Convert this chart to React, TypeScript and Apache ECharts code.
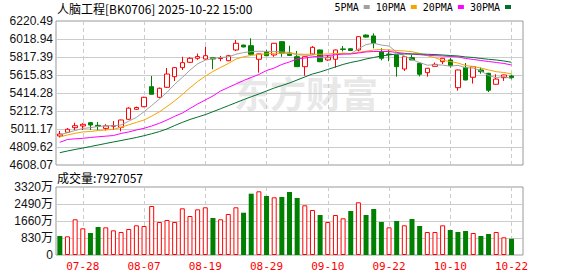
import React, { useEffect, useRef } from 'react';
import * as echarts from 'echarts';

const dates = [
  '07-23', '07-24', '07-25', '07-28', '07-29', '07-30', '07-31', '08-01', '08-04', '08-05',
  '08-06', '08-07', '08-08', '08-11', '08-12', '08-13', '08-14', '08-15', '08-18', '08-19',
  '08-20', '08-21', '08-22', '08-25', '08-26', '08-27', '08-28', '08-29', '09-01', '09-02',
  '09-03', '09-04', '09-05', '09-08', '09-09', '09-10', '09-11', '09-12', '09-15', '09-16',
  '09-17', '09-18', '09-19', '09-22', '09-23', '09-24', '09-25', '09-26', '09-29', '09-30',
  '10-09', '10-10', '10-13', '10-14', '10-15', '10-16', '10-17', '10-20', '10-21', '10-22',
];

const tickDates = ['07-28', '08-07', '08-19', '08-29', '09-10', '09-22', '10-10', '10-22'];

// [open, close, low, high]
const ohlc = [
  [4933, 4955, 4916, 4989], [4974, 5008, 4966, 5022], [5026, 5048, 5000, 5082], [5045, 5064, 5000, 5075],
  [5082, 5056, 5000, 5090], [5052, 5040, 5000, 5090], [5018, 5046, 4995, 5065], [5042, 5050, 5000, 5100],
  [5030, 5112, 4985, 5115], [5120, 5245, 5115, 5255], [5232, 5252, 5225, 5262], [5261, 5366, 5255, 5372],
  [5485, 5400, 5400, 5605], [5366, 5467, 5355, 5475], [5478, 5627, 5470, 5695], [5597, 5698, 5549, 5705],
  [5698, 5754, 5672, 5820], [5758, 5803, 5750, 5815], [5803, 5822, 5785, 5855], [5795, 5832, 5785, 5933],
  [5808, 5795, 5680, 5810], [5800, 5808, 5770, 5830], [5776, 5832, 5770, 5840], [5896, 5971, 5885, 6008],
  [5951, 5930, 5925, 5955], [5944, 5848, 5848, 6027], [5792, 5852, 5642, 5855], [5870, 5832, 5832, 5896],
  [5840, 5971, 5820, 5975], [5989, 5859, 5820, 5995], [5862, 5835, 5830, 5944], [5821, 5709, 5709, 5885],
  [5709, 5821, 5608, 5825], [5851, 5926, 5840, 5940], [5896, 5765, 5760, 5900], [5784, 5814, 5775, 5840],
  [5792, 5896, 5698, 5900], [5908, 5902, 5880, 5940], [5910, 5890, 5885, 5915], [5896, 6045, 5880, 6048],
  [6063, 6040, 6035, 6070], [6053, 5971, 5914, 6082], [5877, 5803, 5780, 5915], [5850, 5845, 5770, 5900],
  [5840, 5709, 5597, 5840], [5683, 5821, 5661, 5825], [5810, 5784, 5784, 5840], [5747, 5624, 5600, 5750],
  [5642, 5691, 5597, 5695], [5713, 5735, 5710, 5755], [5765, 5803, 5739, 5805], [5784, 5720, 5697, 5808],
  [5474, 5672, 5440, 5676], [5700, 5560, 5555, 5750], [5590, 5709, 5520, 5715], [5672, 5653, 5630, 5700],
  [5635, 5445, 5425, 5640], [5512, 5570, 5510, 5624], [5586, 5616, 5550, 5620], [5605, 5586, 5568, 5620],
];

const ma5 = [
  4944, 4970, 4994, 5017, 5026, 5040, 5046, 5048, 5056, 5099, 5141, 5205, 5275, 5346, 5422, 5512, 5589, 5670, 5741, 5782,
  5801, 5812, 5818, 5848, 5867, 5878, 5882, 5880, 5880, 5872, 5870, 5841, 5839, 5830, 5811, 5807, 5844, 5861, 5853, 5909,
  5956, 5971, 5951, 5940, 5873, 5828, 5790, 5755, 5726, 5731, 5727, 5715, 5724, 5698, 5693, 5663, 5608, 5587, 5599, 5574,
];
const ma10 = [
  4922, 4944, 4963, 4978, 4983, 4994, 5000, 5008, 5030, 5058, 5085, 5112, 5155, 5203, 5263, 5326, 5397, 5472, 5543, 5602,
  5656, 5701, 5744, 5794, 5820, 5835, 5846, 5853, 5859, 5859, 5857, 5851, 5848, 5848, 5848, 5851, 5857, 5857, 5857, 5868,
  5883, 5896, 5902, 5896, 5890, 5885, 5877, 5857, 5832, 5809, 5780, 5767, 5750, 5722, 5711, 5694, 5672, 5653, 5644, 5628,
];
const ma20 = [
  4862, 4894, 4901, 4907, 4916, 4924, 4931, 4938, 4961, 4978, 5000, 5019, 5045, 5075, 5112, 5153, 5190, 5241, 5291, 5336,
  5381, 5437, 5476, 5515, 5554, 5588, 5622, 5666, 5694, 5734, 5762, 5795, 5806, 5818, 5825, 5834, 5843, 5849, 5851, 5862,
  5874, 5879, 5879, 5879, 5868, 5859, 5851, 5843, 5837, 5832, 5829, 5823, 5818, 5801, 5790, 5778, 5767, 5756, 5745, 5728,
];
const ma30 = [
  4746, 4765, 4782, 4798, 4815, 4832, 4849, 4866, 4882, 4899, 4916, 4936, 4958, 4982, 5012, 5050, 5085, 5118, 5145, 5172,
  5205, 5238, 5272, 5306, 5340, 5372, 5403, 5437, 5470, 5498, 5526, 5560, 5594, 5627, 5650, 5678, 5706, 5734, 5756, 5773,
  5795, 5812, 5829, 5840, 5851, 5851, 5851, 5851, 5848, 5845, 5840, 5834, 5829, 5818, 5812, 5801, 5792, 5784, 5773, 5758,
];

// volume in 万
const volume = [
  928, 911, 1743, 1302, 1074, 1367, 1351, 1204, 1123, 1269, 1449, 1416, 2392, 1611, 1709, 1611, 2279, 1904, 2230, 2329,
  1806, 1743, 2002, 2329, 2065, 2993, 3110, 2880, 2817, 2832, 3076, 2783, 2426, 2197, 1953, 1611, 1953, 1792, 2148, 2573,
  1953, 2246, 1611, 1351, 1660, 1449, 1758, 1416, 1123, 1123, 1449, 1221, 1123, 1172, 1074, 928, 1025, 1123, 864, 792.7,
];
// 1 = up day (red hollow), -1 = down day (green)
const volDir = [
  -1, 1, 1, 1, -1, -1, 1, 1, 1, 1, 1, 1, 1, 1, 1, 1, 1, 1, 1, 1,
  -1, 1, 1, 1, -1, -1, 1, -1, 1, -1, -1, -1, 1, 1, -1, 1, 1, 1, -1, 1,
  -1, -1, -1, 1, -1, 1, -1, -1, 1, 1, 1, -1, -1, -1, 1, -1, -1, 1, 1, -1,
];

const priceTicks = ['4608.07', '4809.62', '5011.17', '5212.73', '5414.28', '5615.83', '5817.39', '6018.94', '6220.49'];
const volTicks = ['0', '830万', '1660万', '2490万', '3320万'];
const priceMin = 4608.07;
const priceMax = 6220.49;
const volMax = 3320;
const volStep = 830;

const titleText = '人脑工程[BK0706] 2025-10-22 15:00';
const volTitle = '成交量:7927057';
const watermark = '东方财富';

const maNames = ['5PMA', '10PMA', '20PMA', '30PMA'];
const maColors = ['#a0a0a0', '#f5a300', '#ff00ff', '#00702e'];

export default function App() {
  const ref = useRef<HTMLDivElement>(null);
  useEffect(() => {
    const chart = echarts.init(ref.current!, null, { renderer: 'svg' });
    const axisDates = [...dates, ''];
    const tickInterval = (_i: number, v: string) => tickDates.includes(v);
    const vSplit = {
      show: true,
      interval: tickInterval,
      alignWithLabel: true,
      lineStyle: { color: '#cccccc', type: [4, 3] as any, width: 1 },
    };
    const labelFont = '"Liberation Sans", "Noto Sans CJK SC", sans-serif';
    const mas = [ma5, ma10, ma20, ma30];
    const option: any = {
      animation: false,
      backgroundColor: '#ffffff',
      legend: {
        data: maNames,
        right: 67,
        top: 2,
        padding: 0,
        align: 'right',
        icon: 'rect',
        itemWidth: 6,
        itemHeight: 4,
        itemGap: 6,
        selectedMode: false,
        textStyle: { fontSize: 10, fontFamily: '"DejaVu Sans Mono", monospace', color: '#000' },
      },
      graphic: [
        {
          type: 'text', x: 57, y: 8, z: 10,
          style: { text: titleText, font: '12px "Noto Sans CJK SC"', fill: '#000', verticalAlign: 'middle' },
        },
        {
          type: 'text', x: 57, y: 177, z: 10,
          style: { text: volTitle, font: '12px "Noto Sans CJK SC"', fill: '#000', verticalAlign: 'middle' },
        },
        {
          type: 'text', x: 234, y: 92, z: 0,
          style: { text: watermark, font: 'bold 36px "Noto Sans CJK SC"', fill: '#e8e8e8', verticalAlign: 'middle' },
        },
      ],
      grid: [
        { left: 56, top: 21, width: 467, height: 144, show: true, borderColor: '#999999', borderWidth: 1 },
        { left: 56, top: 187, width: 467, height: 68, show: true, borderColor: '#999999', borderWidth: 1 },
      ],
      xAxis: [
        {
          type: 'category', gridIndex: 0, data: axisDates, boundaryGap: true,
          axisLine: { show: false }, axisTick: { show: false }, axisLabel: { show: false },
          splitLine: vSplit,
        },
        {
          type: 'category', gridIndex: 1, data: axisDates, boundaryGap: true,
          axisLine: { show: false }, axisTick: { show: false },
          axisLabel: {
            show: true, interval: tickInterval, color: '#ff0000', fontSize: 11,
            fontFamily: '"DejaVu Sans Mono", monospace', margin: 6,
          },
          splitLine: vSplit,
        },
      ],
      yAxis: [
        { type: 'value', gridIndex: 0, position: 'left', min: priceMin, max: priceMax, show: false, scale: true },
        {
          type: 'value', gridIndex: 0, position: 'left', min: 0, max: priceTicks.length - 1, interval: 1,
          axisLine: { show: false }, axisTick: { show: false },
          axisLabel: {
            formatter: (v: number) => priceTicks[Math.round(v)], color: '#111', fontSize: 12,
            fontFamily: labelFont, margin: 3,
          },
          splitLine: { show: true, showMinLine: false, showMaxLine: false, lineStyle: { color: '#cccccc', width: 1 } },
        },
        {
          type: 'value', gridIndex: 1, position: 'left', min: 0, max: volMax, interval: volStep,
          axisLine: { show: false }, axisTick: { show: false },
          axisLabel: {
            formatter: (v: number) => volTicks[Math.round(v / volStep)], color: '#111', fontSize: 12,
            fontFamily: labelFont, margin: 3,
          },
          splitLine: { show: true, showMinLine: false, showMaxLine: false, lineStyle: { color: '#cccccc', width: 1 } },
        },
      ],
      series: [
        {
          type: 'candlestick', xAxisIndex: 0, yAxisIndex: 0, data: ohlc, barWidth: 5,
          itemStyle: { color: '#ffffff', color0: '#008000', borderColor: '#ff0000', borderColor0: '#008000', borderWidth: 1 },
        },
        ...maNames.map((n, k) => ({
          type: 'line', name: n, xAxisIndex: 0, yAxisIndex: 0, data: mas[k], symbol: 'none',
          lineStyle: { width: 1, color: maColors[k] }, itemStyle: { color: maColors[k] },
        })),
        {
          type: 'bar', xAxisIndex: 1, yAxisIndex: 2, barWidth: 5,
          data: volume.map((v, i) => ({
            value: v,
            itemStyle: volDir[i] > 0
              ? { color: '#ffffff', borderColor: '#ff0000', borderWidth: 1 }
              : { color: '#008000', borderColor: '#008000', borderWidth: 0 },
          })),
        },
      ],
    };
    chart.setOption(option);
    return () => chart.dispose();
  }, []);
  return <div ref={ref} style={{ position: 'absolute', left: 0, top: 0, width: 578, height: 276 }} />;
}
